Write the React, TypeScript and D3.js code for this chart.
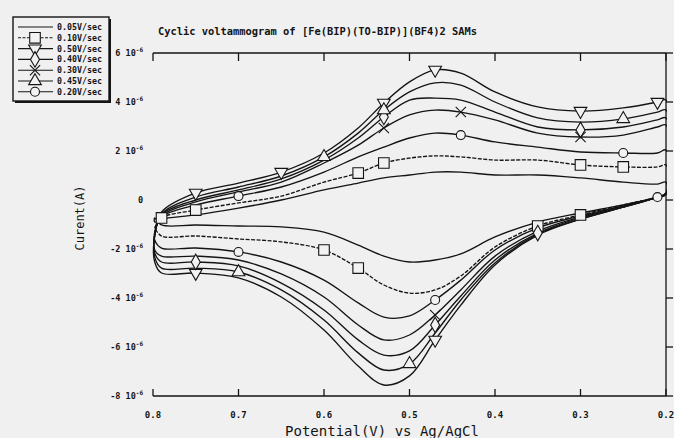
import * as d3 from 'd3';

// potential grid (V vs Ag/AgCl), shared by all scans
const potentials = [0.798, 0.79, 0.75, 0.70, 0.65, 0.60, 0.56, 0.53, 0.50, 0.47, 0.44, 0.40, 0.35, 0.30, 0.25, 0.21, 0.20];

// anodic (upper) branches, current in 10^-6 A
const up1 = [-1.43, -0.49, 0.29, 0.69, 1.14, 1.92, 2.94, 3.96, 4.82, 5.31, 5.18, 4.41, 3.80, 3.63, 3.76, 4.00, 4.08];
const up2 = [-1.43, -0.57, 0.12, 0.53, 0.98, 1.76, 2.73, 3.67, 4.41, 4.78, 4.69, 4.00, 3.35, 3.18, 3.31, 3.59, 3.67];
const up3 = [-1.43, -0.61, 0.00, 0.41, 0.86, 1.63, 2.53, 3.39, 4.08, 4.16, 4.08, 3.59, 2.98, 2.86, 2.98, 3.27, 3.35];
const up4 = [-1.43, -0.65, -0.08, 0.33, 0.73, 1.51, 2.24, 2.94, 3.47, 3.67, 3.59, 3.27, 2.73, 2.57, 2.65, 2.98, 3.06];
const up5 = [-1.31, -0.69, -0.20, 0.16, 0.53, 1.14, 1.76, 2.16, 2.53, 2.73, 2.65, 2.37, 2.16, 1.96, 1.92, 1.92, 2.04];
const up6 = [-1.14, -0.73, -0.41, -0.12, 0.16, 0.73, 1.10, 1.51, 1.71, 1.80, 1.76, 1.63, 1.63, 1.43, 1.35, 1.35, 1.43];
const up7 = [-0.90, -0.78, -0.61, -0.33, 0.00, 0.41, 0.69, 0.90, 1.02, 1.14, 1.14, 1.02, 1.02, 0.90, 0.73, 0.65, 0.73];

// cathodic (lower) branches, same potential grid
const lo1 = [-2.53, -2.98, -2.98, -3.18, -3.96, -5.31, -6.78, -7.55, -7.18, -5.71, -4.29, -2.65, -1.43, -0.78, -0.29, 0.12, 0.29];
const lo2 = [-2.33, -2.78, -2.78, -2.94, -3.67, -4.90, -6.24, -6.94, -6.69, -5.43, -4.08, -2.57, -1.39, -0.78, -0.29, 0.12, 0.29];
const lo3 = [-2.16, -2.53, -2.53, -2.69, -3.39, -4.49, -5.71, -6.33, -6.16, -5.10, -3.92, -2.45, -1.35, -0.73, -0.29, 0.12, 0.24];
const lo4 = [-2.04, -2.29, -2.29, -2.45, -3.02, -3.96, -5.10, -5.71, -5.51, -4.69, -3.67, -2.29, -1.27, -0.69, -0.24, 0.12, 0.24];
const lo5 = [-1.63, -1.96, -1.96, -2.12, -2.53, -3.27, -4.20, -4.78, -4.73, -4.08, -3.27, -2.04, -1.14, -0.65, -0.24, 0.12, 0.24];
const lo6 = [-1.14, -1.47, -1.47, -1.59, -1.71, -2.04, -2.78, -3.47, -3.80, -3.67, -3.10, -1.92, -1.06, -0.61, -0.20, 0.12, 0.24];
const lo7 = [-0.73, -1.02, -1.02, -1.06, -1.10, -1.31, -1.84, -2.29, -2.53, -2.45, -2.20, -1.51, -0.90, -0.53, -0.20, 0.12, 0.24];

// legend order
const scanLabels = ['0.05V/sec', '0.10V/sec', '0.50V/sec', '0.40V/sec', '0.30V/sec', '0.45V/sec', '0.20V/sec'];
const scanMarkers = ['none', 'square', 'triDown', 'diamond', 'cross', 'triUp', 'circle'];
const scanUpper = [up7, up6, up1, up3, up4, up2, up5];
const scanLower = [lo7, lo6, lo1, lo3, lo4, lo2, lo5];
// grid indices where markers sit on each branch
const markUpper = [[], [1, 2, 6, 7, 13, 14], [2, 4, 7, 9, 13, 15], [7, 13], [7, 10, 13], [5, 7, 14], [3, 10, 14]];
const markLower = [[], [5, 6, 12, 13], [2, 9], [2, 9, 12], [9], [3, 8], [3, 9, 15]];

const xTicks = [0.8, 0.7, 0.6, 0.5, 0.4, 0.3, 0.2];
const yTicks = [6, 4, 2, 0, -2, -4, -6, -8];

const W = 674;
const H = 438;
const ink = '#141414';
const mono = '"DejaVu Sans Mono", monospace';

const symbolPath = (kind: string, size: number) => {
  const types: Record<string, any> = {
    square: d3.symbolSquare,
    triDown: d3.symbolTriangle,
    triUp: d3.symbolTriangle,
    diamond: d3.symbolDiamond,
    cross: d3.symbolX,
    circle: d3.symbolCircle,
  };
  const t = types[kind];
  if (!t) return null;
  const s = kind === 'square' ? size * 1.6 : kind === 'circle' ? size * 0.9 : size;
  return d3.symbol().type(t).size(s)() as string;
};

const Marker = ({ kind, cx, cy }: { kind: string; cx: number; cy: number }) => {
  const d = symbolPath(kind, 70);
  if (!d) return null;
  const rot = kind === 'triDown' ? 180 : 0;
  return (
    <path
      d={d}
      transform={`translate(${cx},${cy}) rotate(${rot})`}
      fill="#f2f2f2"
      stroke={ink}
      strokeWidth={1.1}
    />
  );
};

export default function App() {
  const x = d3.scaleLinear().domain([0.8, 0.2]).range([153, 666]);
  const y = d3.scaleLinear().domain([-8, 6]).range([396, 53]);

  const line = d3
    .line<[number, number]>()
    .x((d) => x(d[0]))
    .y((d) => y(d[1]))
    .curve(d3.curveCatmullRomClosed.alpha(0.5));

  const loops = scanUpper.map((u, i) => {
    const lo = scanLower[i];
    const pts: [number, number][] = [
      ...potentials.map((p, k) => [p, u[k]] as [number, number]),
      ...potentials.map((p, k) => [p, lo[k]] as [number, number]).reverse(),
    ];
    return line(pts) as string;
  });

  return (
    <svg width={W} height={H} style={{ position: 'absolute', left: 0, top: 0 }}>
      <rect x={0} y={0} width={W} height={H} fill="#f0f0f0" />

      <text x={158} y={35} fontFamily={mono} fontWeight="bold" fontSize={10.4} fill={ink}>
        Cyclic voltammogram of [Fe(BIP)(TO-BIP)](BF4)2 SAMs
      </text>

      {/* frame: top, bottom, right (left spine missing in original) */}
      <g stroke={ink} strokeWidth={1.3} fill="none">
        <line x1={x(0.8)} x2={x(0.2)} y1={y(6)} y2={y(6)} />
        <line x1={x(0.8)} x2={x(0.2)} y1={y(-8)} y2={y(-8)} />
        <line x1={x(0.2)} x2={x(0.2)} y1={y(6)} y2={y(-8)} />
        {xTicks.map((t) => (
          <g key={t}>
            <line x1={x(t)} x2={x(t)} y1={y(6)} y2={y(6) + 8} />
            <line x1={x(t)} x2={x(t)} y1={y(-8)} y2={y(-8) - 7} />
          </g>
        ))}
        {yTicks.map((t) => (
          <line key={t} x1={x(0.2)} x2={x(0.2) + 7} y1={y(t)} y2={y(t)} />
        ))}
      </g>

      {xTicks.map((t) => (
        <text
          key={t}
          x={x(t)}
          y={418}
          textAnchor="middle"
          fontFamily={mono}
          fontWeight="bold"
          fontSize={9}
          fill={ink}
        >
          {t.toFixed(1)}
        </text>
      ))}
      {yTicks.map((t) => (
        <text
          key={t}
          x={143}
          y={y(t) + 3}
          textAnchor="end"
          fontFamily={mono}
          fontWeight="bold"
          fontSize={8.5}
          fill={ink}
        >
          {t === 0 ? (
            '0'
          ) : (
            <>
              {`${t} 10`}
              <tspan dy={-4} fontSize={6}>
                -6
              </tspan>
            </>
          )}
        </text>
      ))}

      <text
        transform="translate(84,218) rotate(-90)"
        textAnchor="middle"
        fontFamily={mono}
        fontSize={12}
        fill={ink}
      >
        Curent(A)
      </text>
      <text x={382} y={436} textAnchor="middle" fontFamily={mono} fontSize={14} fill={ink}>
        Potential(V) vs Ag/AgCl
      </text>

      <defs>
        <clipPath id="plotClip">
          <rect x={140} y={53} width={527} height={343} />
        </clipPath>
      </defs>
      <g clipPath="url(#plotClip)">
        {loops.map((d, i) => (
          <path
            key={i}
            d={d}
            fill="none"
            stroke={ink}
            strokeWidth={1.35}
            strokeDasharray={scanMarkers[i] === 'square' ? '4 1.5' : undefined}
          />
        ))}
      </g>
      <g>
        {scanMarkers.map((m, i) => (
          <g key={i}>
            {markUpper[i].map((k) => (
              <Marker key={'u' + k} kind={m} cx={x(potentials[k])} cy={y(scanUpper[i][k])} />
            ))}
            {markLower[i].map((k) => (
              <Marker key={'l' + k} kind={m} cx={x(potentials[k])} cy={y(scanLower[i][k])} />
            ))}
          </g>
        ))}
      </g>

      {/* legend */}
      <g>
        <rect x={15} y={19} width={96} height={84} fill={ink} />
        <rect x={13} y={17} width={96} height={84} fill="#f0f0f0" stroke={ink} strokeWidth={1.4} />
        {scanLabels.map((lab, i) => {
          const ly = 27 + i * 10.8;
          return (
            <g key={lab}>
              <line
                x1={18}
                x2={53}
                y1={ly}
                y2={ly}
                stroke={ink}
                strokeWidth={1.1}
                strokeDasharray={scanMarkers[i] === 'square' ? '3 1.5' : undefined}
              />
              <Marker kind={scanMarkers[i]} cx={35} cy={ly} />
              <text x={57} y={ly + 3} fontFamily={mono} fontWeight="bold" fontSize={8.3} fill={ink}>
                {lab}
              </text>
            </g>
          );
        })}
      </g>
    </svg>
  );
}
